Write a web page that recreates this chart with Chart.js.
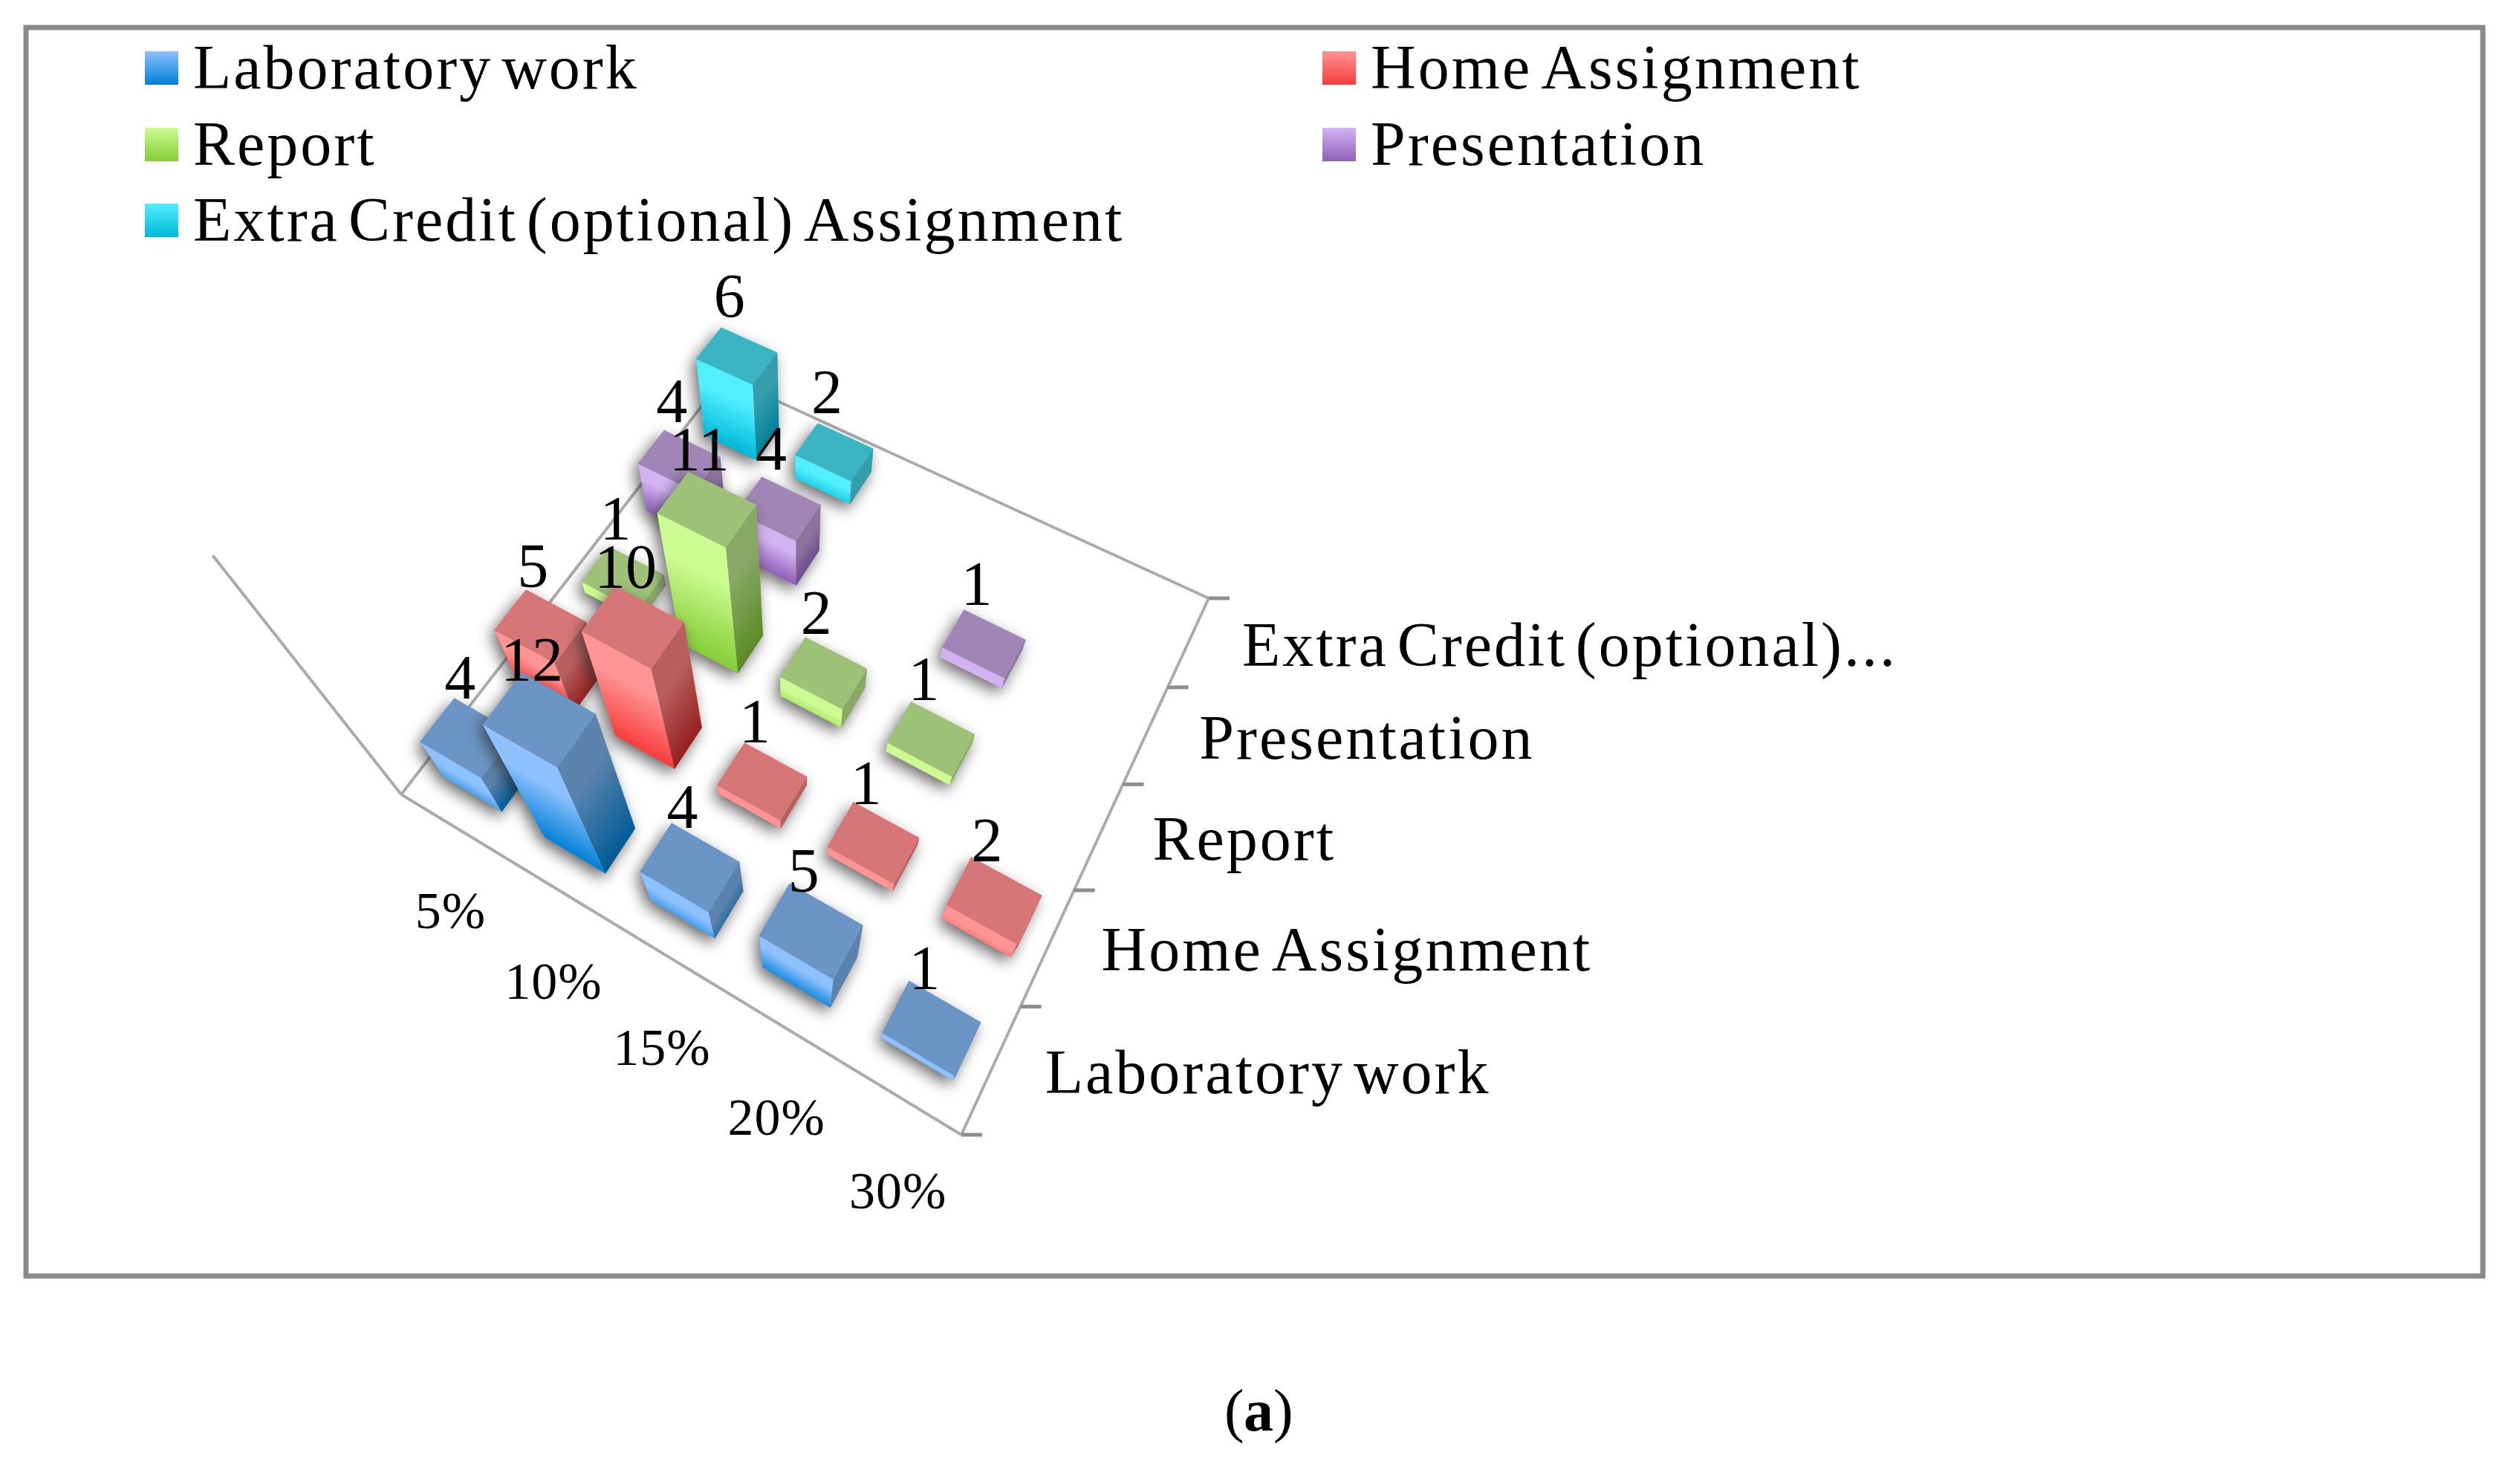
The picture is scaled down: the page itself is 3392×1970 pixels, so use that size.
<!DOCTYPE html>
<html>
<head>
<meta charset="utf-8">
<title>Assessment weights</title>
<style>
  html, body { margin: 0; padding: 0; background: #fff; }
  canvas { display: block; }
</style>
<script src="https://cdn.jsdelivr.net/npm/chart.js@4/dist/chart.umd.min.js"></script>
</head>
<body>
<canvas id="chart" width="3392" height="1970"></canvas>
<script>
var percentLabels = ["5%", "10%", "15%", "20%", "30%"];
var seriesNames = ["Laboratory work", "Home Assignment", "Report", "Presentation", "Extra Credit (optional) Assignment"];
var seriesAxisNames = ["Laboratory work", "Home Assignment", "Report", "Presentation", "Extra Credit (optional)..."];

var laboratoryWork = [4, 12, 4, 5, 1];
var homeAssignment = [5, 10, 1, 1, 2];
var report = [1, 11, 2, 1, null];
var presentation = [4, 4, null, 1, null];
var extraCredit = [6, 2, null, null, null];
var seriesValues = [laboratoryWork, homeAssignment, report, presentation, extraCredit];
var valueMax = 20;

var seriesStyles = [
  { top: "#6b95c5", light: "#8dc1ff", deep: "#0080d6", side: "#5b83ad", sideDeep: "#005c96" },
  { top: "#d77676", light: "#ff9494", deep: "#f83c3c", side: "#b85f5f", sideDeep: "#962020" },
  { top: "#9dc277", light: "#ccfb92", deep: "#84cc35", side: "#88a866", sideDeep: "#5b8b25" },
  { top: "#a185b6", light: "#d2b3f2", deep: "#8f5fb8", side: "#8c739e", sideDeep: "#65408c" },
  { top: "#3bb5c4", light: "#52f0ff", deep: "#00b8d8", side: "#359dac", sideDeep: "#007f96" },
];

// camera of the floor: corners of the plot on the page and the point verticals run to
var floor = { a: [540, 1069], b: [1294, 1527], c: [1627, 805], d: [975, 507] };
var nadir = [1074, 1746];
var liftAtMax = 0.322;
var barHalfU = 0.058;
var barHalfV = 0.042;
var percentDrop = [140, 151, 151, 151, 151];
var FONT = '"Liberation Serif", serif';

function makeCamera() {
  var a = floor.a, b = floor.b, c = floor.c, d = floor.d;
  var sx = a[0] - b[0] + c[0] - d[0], sy = a[1] - b[1] + c[1] - d[1];
  var dx1 = b[0] - c[0], dx2 = d[0] - c[0], dy1 = b[1] - c[1], dy2 = d[1] - c[1];
  var det = dx1 * dy2 - dx2 * dy1;
  var g = (sx * dy2 - dx2 * sy) / det;
  var h = (dx1 * sy - sx * dy1) / det;
  return {
    g: g, h: h,
    ax: b[0] - a[0] + g * b[0], bx: d[0] - a[0] + h * d[0],
    ay: b[1] - a[1] + g * b[1], by: d[1] - a[1] + h * d[1],
  };
}
var cam = makeCamera();

// u, v run 0..1 across the floor, lift is 0..1 of the value axis
function project(u, v, lift) {
  var w = 1 + cam.g * u + cam.h * v;
  var X = cam.ax * u + cam.bx * v + floor.a[0];
  var Y = cam.ay * u + cam.by * v + floor.a[1];
  var m = liftAtMax * lift;
  return [(X - m * nadir[0]) / (w - m), (Y - m * nadir[1]) / (w - m)];
}

function poly(ctx, pts) {
  ctx.beginPath();
  ctx.moveTo(pts[0][0], pts[0][1]);
  for (var i = 1; i < pts.length; i++) ctx.lineTo(pts[i][0], pts[i][1]);
  ctx.closePath();
}

function line(ctx, p, q, color, width) {
  ctx.strokeStyle = color;
  ctx.lineWidth = width;
  ctx.beginPath();
  ctx.moveTo(p[0], p[1]);
  ctx.lineTo(q[0], q[1]);
  ctx.stroke();
}

// colour bands run parallel to the face's top edge e0-e1, going down to "to"
function faceGradient(ctx, e0, e1, to, minLen, c0, c1) {
  var ex = e1[0] - e0[0], ey = e1[1] - e0[1];
  var el = Math.sqrt(ex * ex + ey * ey);
  var nx = -ey / el, ny = ex / el;
  var dist = (to[0] - e1[0]) * nx + (to[1] - e1[1]) * ny;
  if (dist < 0) { nx = -nx; ny = -ny; dist = -dist; }
  var len = Math.max(dist, minLen);
  var gr = ctx.createLinearGradient(e1[0], e1[1], e1[0] + nx * len, e1[1] + ny * len);
  gr.addColorStop(0, c0);
  gr.addColorStop(0.3, c0);
  gr.addColorStop(1, c1);
  return gr;
}

function drawBar(ctx, u, v, lift, st) {
  var lu = u - barHalfU, ru = u + barHalfU, lv = v - barHalfV, hv = v + barHalfV;
  var f0 = project(lu, lv, 0), f1 = project(ru, lv, 0), f2 = project(ru, hv, 0);
  var t0 = project(lu, lv, lift), t1 = project(ru, lv, lift), t2 = project(ru, hv, lift), t3 = project(lu, hv, lift);

  ctx.save();
  ctx.shadowColor = "rgba(40,40,40,0.7)";
  ctx.shadowBlur = 20;
  ctx.shadowOffsetX = -5;
  ctx.shadowOffsetY = 7;
  ctx.fillStyle = st.top;
  poly(ctx, [f0, f1, f2, t2, t3, t0]);
  ctx.fill();
  ctx.restore();

  ctx.fillStyle = faceGradient(ctx, t0, t1, f1, 40, st.light, st.deep);
  poly(ctx, [t0, t1, f1, f0]);
  ctx.fill();
  ctx.fillStyle = faceGradient(ctx, t2, t1, f1, 40, st.side, st.sideDeep);
  poly(ctx, [t1, t2, f2, f1]);
  ctx.fill();
  ctx.fillStyle = st.top;
  poly(ctx, [t0, t1, t2, t3]);
  ctx.fill();
}

var bars3d = {
  id: "bars3d",
  beforeDatasetsDraw: function (chart) {
    var ctx = chart.ctx;
    var xs = chart.scales.x, ys = chart.scales.y, zs = chart.scales.z;
    var toU = function (i) { return (xs.getPixelForValue(i) - xs.left) / xs.width; };
    var toV = function (j) { return (ys.bottom - ys.getPixelForValue(j)) / ys.height; };
    var toLift = function (val) { return (zs.bottom - zs.getPixelForValue(val)) / zs.height; };

    ctx.save();
    ctx.fillStyle = "#fff";
    ctx.fillRect(0, 0, chart.width, chart.height);
    ctx.strokeStyle = "#8a8a8a";
    ctx.lineWidth = 7;
    ctx.strokeRect(35, 37, 3307, 1680);

    // legend
    ctx.textAlign = "left";
    ctx.textBaseline = "alphabetic";
    ctx.font = "84px " + FONT;
    ctx.letterSpacing = "3px";
    ctx.wordSpacing = "-12px";
    var legendCols = [195, 1780];
    var legendRows = [117, 220, 322];
    seriesNames.forEach(function (name, j) {
      var lx = legendCols[j % 2], ly = legendRows[Math.floor(j / 2)];
      var st = seriesStyles[j];
      var gr = ctx.createLinearGradient(0, ly - 48, 0, ly - 3);
      gr.addColorStop(0, st.light);
      gr.addColorStop(1, st.deep);
      ctx.fillStyle = gr;
      ctx.fillRect(lx, ly - 48, 45, 45);
      ctx.fillStyle = "#000";
      ctx.fillText(name, lx + 65, ly + 2);
    });

    // walls and axes
    var axisColor = "#ababab";
    var A = project(0, 0, 0), B = project(1, 0, 0), C = project(1, 1, 0), D = project(0, 1, 0);
    line(ctx, project(0, 0, 1), A, axisColor, 4);
    line(ctx, A, B, axisColor, 4);
    line(ctx, B, C, axisColor, 4);
    line(ctx, C, D, axisColor, 4);
    line(ctx, D, A, axisColor, 4);
    for (var t = 0; t <= seriesNames.length; t++) {
      var tk = project(1, t / seriesNames.length, 0);
      line(ctx, tk, [tk[0] + 28, tk[1]], "#8e8e8e", 5);
    }

    // tick labels
    ctx.fillStyle = "#000";
    ctx.font = "70px " + FONT;
    ctx.letterSpacing = "1px";
    ctx.wordSpacing = "0px";
    ctx.textAlign = "center";
    xs.getLabels().forEach(function (lab, i) {
      var p = project(toU(i), 0, 0);
      ctx.fillText(lab, p[0], p[1] + percentDrop[i]);
    });
    ctx.font = "84px " + FONT;
    ctx.letterSpacing = "3px";
    ctx.wordSpacing = "-12px";
    ctx.textAlign = "left";
    ys.getLabels().forEach(function (lab, j) {
      var p = project(1, toV(j), 0);
      ctx.fillText(lab, p[0] + 72, p[1] + 32);
    });
    ctx.letterSpacing = "0px";
    ctx.wordSpacing = "0px";

    // bars back to front
    var labels = [];
    for (var j = seriesValues.length - 1; j >= 0; j--) {
      chart.data.datasets[j].data.forEach(function (raw) {
        var u = toU(raw.x), v = toV(raw.y), lift = toLift(raw.z);
        drawBar(ctx, u, v, lift, seriesStyles[j]);
        var c = project(u, v, lift);
        labels.push({ text: String(raw.z), x: c[0] - 10, y: c[1] - 52 });
      });
    }

    // value labels sit over every bar
    ctx.fillStyle = "#000";
    ctx.font = "84px " + FONT;
    ctx.textAlign = "center";
    labels.forEach(function (l) { ctx.fillText(l.text, l.x, l.y); });

    // caption
    ctx.textAlign = "left";
    var capX = 1648, capY = 1925;
    ctx.font = "80px " + FONT;
    ctx.fillText("(", capX, capY);
    ctx.font = "bold 80px " + FONT;
    ctx.fillText("a", capX + 26, capY);
    ctx.font = "80px " + FONT;
    ctx.fillText(")", capX + 66, capY);
    ctx.restore();
  },
};

var datasets = seriesValues.map(function (vals, j) {
  var pts = [];
  vals.forEach(function (val, i) {
    pts.push({ x: i, y: j, z: val });
  });
  return { label: seriesNames[j], data: pts.filter(function (p) { return p.z != null; }), pointRadius: 0, showLine: false };
});

new Chart(document.getElementById("chart"), {
  type: "scatter",
  data: { datasets: datasets },
  options: {
    responsive: false,
    animation: false,
    layout: { padding: 0 },
    parsing: false,
    plugins: { legend: { display: false }, tooltip: { enabled: false }, title: { display: false } },
    scales: {
      x: { type: "category", labels: percentLabels, display: false, offset: true },
      y: { type: "category", labels: seriesAxisNames, display: false, offset: true, reverse: true },
      z: { type: "linear", position: "right", min: 0, max: valueMax, display: false },
    },
  },
  plugins: [bars3d],
});
</script>
</body>
</html>
